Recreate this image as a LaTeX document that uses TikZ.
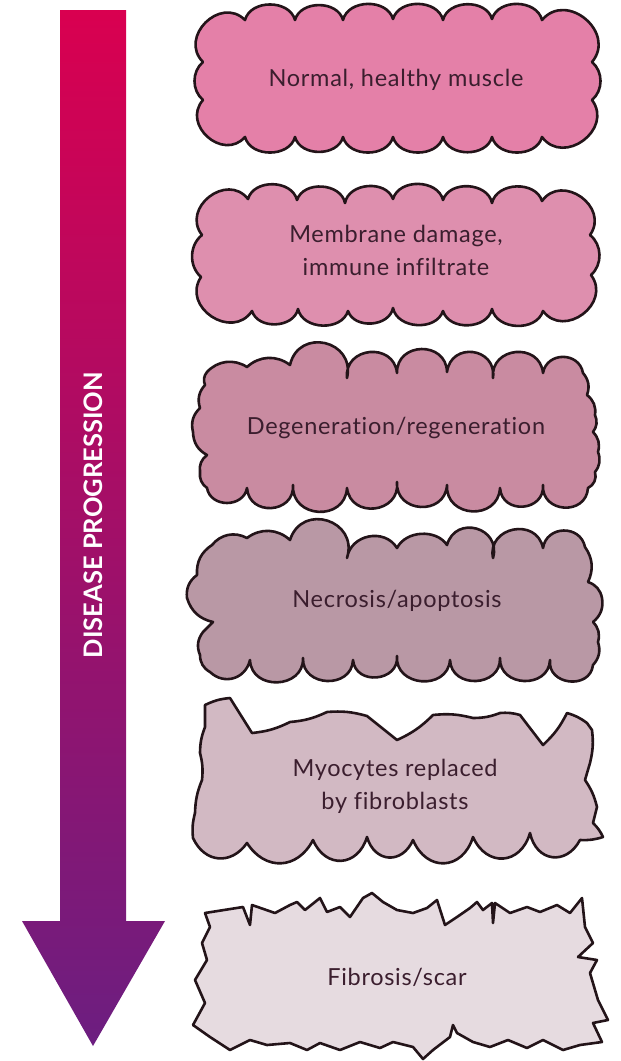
\documentclass[tikz,border=0pt]{standalone}
\usepackage{fontspec}
\setmainfont{Lato}
\definecolor{cA}{RGB}{228,128,168}
\definecolor{cB}{RGB}{222,143,174}
\definecolor{cC}{RGB}{201,139,161}
\definecolor{cD}{RGB}{185,152,165}
\definecolor{cE}{RGB}{210,185,195}
\definecolor{cF}{RGB}{230,219,224}
\definecolor{edge}{RGB}{35,20,25}
\definecolor{txt}{RGB}{59,30,46}
\definecolor{arrTop}{RGB}{217,0,80}
\definecolor{arrMid}{RGB}{190,18,105}
\definecolor{arrBot}{RGB}{108,30,128}
\tikzset{
  blob/.style={draw=edge, line width=2.6pt, line join=round},
  lbl/.style={text=txt, font=\fontsize{23.5}{33}\selectfont\addfontfeatures{LetterSpace=3,Ligatures=NoCommon}, align=center, inner sep=0pt},
  progtext/.style={text=white, font=\bfseries\fontsize{25.5}{28}\selectfont, rotate=90, inner sep=0pt}
}
\newcommand\bumpy[3]{\draw[#1] #2 \foreach \x/\y/\b/\l in {#3} { to[bend left=\b, looseness=\l] (\x,\y) } -- cycle;}
\begin{document}
\begin{tikzpicture}[x=1pt,y=-1pt]
\useasboundingbox (0,0) rectangle (621,1061);
% arrow
\shade[top color=arrTop, middle color=arrMid, bottom color=arrBot]
  (60,10) -- (126,10) -- (126,921) -- (165,921) -- (93,1046) -- (22,921) -- (60,921) -- cycle;
\node[progtext] (prog) at (93,515) {DISEASE PROGRESSION};
% box 1
\bumpy{blob, fill=cA}{(203,62)}{245/20/90/1.5, 295/20/75/1.1, 343/20/75/1.1, 393/19/75/1.1, 443/20/75/1.1, 492/19/75/1.1, 542/20/75/1.1, 592/62/90/1.5, 592/100/50/1, 542/137/90/1.5, 492/137/75/1.1, 443/137/75/1.1, 393/137/75/1.1, 343/137/75/1.1, 295/137/75/1.1, 245/137/75/1.1, 203/100/90/1.5, 203/62/50/1}
% box 2
\bumpy{blob, fill=cB}{(202,235)}{248/199/90/1.5, 297/200/75/1.1, 345/203/75/1.1, 393/199/75/1.1, 443/200/75/1.1, 492/203/75/1.1, 542/201/75/1.1, 590/235/90/1.5, 591/275/50/1, 543/311/90/1.5, 492/309/75/1.1, 443/311/75/1.1, 393/308/75/1.1, 348/311/75/1.1, 298/309/75/1.1, 252/311/75/1.1, 201/277/90/1.5, 202/235/50/1}
% box 3
\bumpy{blob, fill=cC}{(207,372)}{247/367/40/1, 290/365/40/1, 347/378/90/1.7, 397/373/90/1.6, 447/372/90/1.6, 493/378/90/1.7, 543/373/90/1.6, 583/373/80/1.4, 587/395/30/1, 595/415/30/1, 593/432/30/1, 598/452/30/1, 595/472/30/1, 588/488/40/1, 543/485/90/1.6, 500/488/90/1.6, 447/485/90/1.6, 397/482/90/1.6, 347/488/90/1.6, 293/485/90/1.6, 247/488/90/1.6, 207/488/80/1.3, 200/472/30/1, 207/455/30/1, 193/432/30/1, 200/408/30/1, 205/385/30/1, 207/372/30/1}
% box 4
\bumpy{blob, fill=cD}{(212,545)}{247/538/40/1, 290/540/40/1, 347/558/90/1.7, 397/548/70/1.2, 447/545/60/1, 493/558/90/1.7, 543/548/90/1.6, 585/547/80/1.4, 588/582/30/1, 602/598/30/1, 593/622/30/1, 598/642/30/1, 593/665/30/1, 550/660/90/1.5, 500/658/90/1.5, 450/660/90/1.5, 397/656/90/1.5, 353/660/90/1.5, 303/658/90/1.5, 250/660/90/1.5, 210/672/60/1.2, 200/655/30/1, 203/632/30/1, 213/622/0/1, 187/598/30/1, 197/575/30/1, 212/545/30/1}
% box 5
\bumpy{blob, fill=cE}{(205,705)}{230/698/10/1, 252/733/0/1, 290/722/-10/1, 327/712/-10/1, 367/716/10/1, 397/740/0/1, 433/715/-10/1, 473/718/10/1, 500/713/-10/1, 520/715/10/1, 543/745/0/1, 567/713/-10/1, 587/723/10/1, 592/730/0/1, 590/763/10/1, 585/780/0/1, 597/807/10/1, 593/823/0/1, 603/837/10/1, 580/840/10/1, 530/833/70/1.5, 473/837/70/1.5, 413/840/70/1.5, 367/837/70/1.5, 313/840/70/1.5, 247/843/60/1.3, 193/838/60/1.3, 195/813/10/1, 202/780/10/1, 200/753/-10/1, 205/727/10/1, 205/705/0/1}
% box 6
\draw[blob, fill=cF] (205,913) -- (243,907) -- (250,925) -- (252,905) -- (275,913) -- (290,905) -- (297,902) -- (305,910) -- (320,898) -- (327,912) -- (340,907) -- (350,917) -- (363,898) -- (372,893) -- (383,902) -- (397,910) -- (413,913) -- (427,908) -- (437,900) -- (445,925) -- (457,917) -- (470,908) -- (477,902) -- (483,910) -- (492,903) -- (493,923) -- (495,903) -- (510,913) -- (527,907) -- (540,912) -- (557,905) -- (570,913) -- (582,898) -- (585,927) -- (593,943) -- (578,957) -- (597,960) -- (590,973) -- (598,1000) -- (608,1020) -- (593,1023) -- (602,1042) -- (580,1045) -- (563,1050) -- (543,1040) -- (527,1048) -- (508,1040) -- (490,1047) -- (473,1042) -- (457,1033) -- (453,1025) -- (450,1037) -- (433,1050) -- (423,1059) -- (413,1047) -- (393,1042) -- (380,1048) -- (360,1042) -- (340,1050) -- (320,1043) -- (307,1050) -- (290,1043) -- (267,1045) -- (250,1040) -- (230,1050) -- (210,1037) -- (193,1025) -- (205,1003) -- (195,980) -- (207,960) -- (202,943) -- (210,927) -- cycle;
% labels
\node[lbl] (t1) at (396,80) {Normal, healthy muscle};
\node[lbl] (t2) at (396,250) {Membrane damage,\\immune infiltrate};
\node[lbl] (t3) at (396,428) {Degeneration/regeneration};
\node[lbl] (t4) at (397,601) {Necrosis/apoptosis};
\node[lbl] (t5) at (395,786) {Myocytes replaced\\by fibroblasts};
\node[lbl] (t6) at (397,977) {Fibrosis/scar};
\end{tikzpicture}
\end{document}
